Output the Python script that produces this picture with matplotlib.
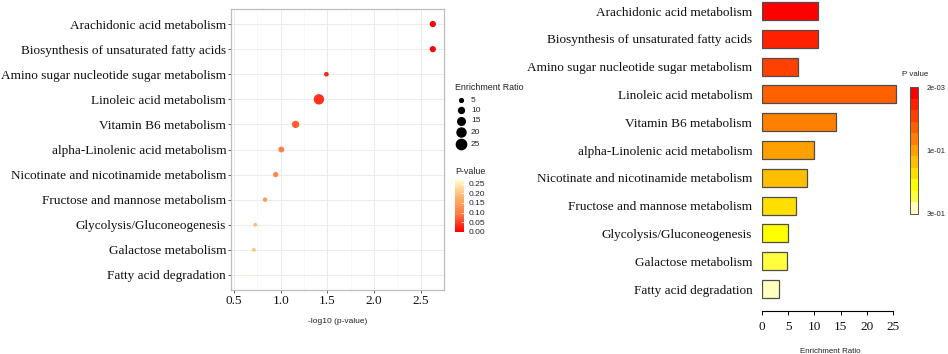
import numpy as np
import matplotlib
matplotlib.use("Agg")
import matplotlib.pyplot as plt
from matplotlib.colors import LinearSegmentedColormap, ListedColormap, hsv_to_rgb
from matplotlib.lines import Line2D
import matplotlib.colorbar as mcolorbar
from matplotlib.colors import Normalize

# pathways, top to bottom
pathways = [
    "Arachidonic acid metabolism",
    "Biosynthesis of unsaturated fatty acids",
    "Amino sugar nucleotide sugar metabolism",
    "Linoleic acid metabolism",
    "Vitamin B6 metabolism",
    "alpha-Linolenic acid metabolism",
    "Nicotinate and nicotinamide metabolism",
    "Fructose and mannose metabolism",
    "Glycolysis/Gluconeogenesis",
    "Galactose metabolism",
    "Fatty acid degradation",
]
neg_log10_p = [2.63, 2.63, 1.49, 1.41, 1.16, 1.007, 0.947, 0.833, 0.727, 0.713, 0.571]
enrichment = [10.6, 10.6, 6.9, 25.6, 14.2, 9.9, 8.5, 6.4, 4.9, 4.8, 3.3]
size_breaks = [5, 10, 15, 20, 25]
pval_breaks = [0.00, 0.05, 0.10, 0.15, 0.20, 0.25]
bar_cbar_labels = ["2e-03", "1e-01", "3e-01"]

pvals = 10 ** (-np.array(neg_log10_p))
enrich = np.array(enrichment)

SERIF = ["Liberation Serif", "DejaVu Serif"]
SANS = ["Liberation Sans", "DejaVu Sans"]

W, H = 948, 354
fig = plt.figure(figsize=(W / 100, H / 100), dpi=100)


def px_axes(x0, y0, x1, y1):
    # pixel box (top-left origin) -> figure axes
    return fig.add_axes([x0 / W, 1 - y1 / H, (x1 - x0) / W, (y1 - y0) / H])


def heat_colors(n):
    # same as R's heat.colors
    j = n // 4
    i = n - j
    cols = [hsv_to_rgb((h, 1, 1)) for h in np.linspace(0, 1 / 6, i)]
    if j > 0:
        for s in np.linspace(1 - 1 / (2 * j), 1 / (2 * j), j):
            cols.append(hsv_to_rgb((1 / 6, s, 1)))
    return cols


def dot_diam(v):
    lo, hi = np.sqrt(enrich.min()), np.sqrt(enrich.max())
    return 2.0 + (np.sqrt(v) - lo) / (hi - lo) * 5.5


n = len(pathways)
ypos = np.arange(n)

# ---------- left: bubble plot ----------
ax1 = px_axes(231, 9, 444, 290)
dot_cmap = LinearSegmentedColormap.from_list("dots", ["#FF0000", "#FF7A45", "#FFB26E", "#FFFFCC"])
pnorm = Normalize(pvals.min(), pvals.max())
ax1.scatter(neg_log10_p, ypos, s=dot_diam(enrich) ** 2, c=pvals, cmap=dot_cmap, norm=pnorm,
            edgecolors="none", zorder=3)
ax1.set_xlim(0.468, 2.734)
ax1.set_ylim(n - 1 + 0.6, -0.6)
ax1.set_xticks([0.5, 1.0, 1.5, 2.0, 2.5])
ax1.set_xticks([0.75, 1.25, 1.75, 2.25, 2.75], minor=True)
ax1.set_yticks(ypos)
ax1.set_yticklabels(pathways, family=SERIF, fontsize=9.5, color="#111111")
ax1.set_xticklabels(["0.5", "1.0", "1.5", "2.0", "2.5"], family=SERIF, fontsize=9.5, color="#111111")
ax1.grid(True, which="major", color="#EBEBEB", lw=0.7)
ax1.grid(True, which="minor", axis="x", color="#F2F2F2", lw=0.4)
ax1.set_axisbelow(True)
for sp in ax1.spines.values():
    sp.set_color("#BDBDBD")
    sp.set_linewidth(0.9)
ax1.tick_params(which="major", length=2, width=0.6, color="#444444", pad=1.5)
ax1.tick_params(which="minor", length=0)
ax1.set_xlabel("-log10 (p-value)", family=SANS, fontsize=6, color="#222222", labelpad=8)

# size legend
fig.text(455 / W, 1 - 87 / H, "Enrichment Ratio", family=SANS, fontsize=6.4, va="center", color="#222222")
leg_y = [100, 110, 121, 132, 144]
for b, yy in zip(size_breaks, leg_y):
    fig.add_artist(Line2D([461 / W], [1 - yy / H], marker="o", color="black", ls="none",
                          markersize=dot_diam(b), transform=fig.transFigure))
    fig.text(471 / W, 1 - yy / H, str(b), family=SANS, fontsize=6, va="center", color="#222222")

# colour legend
fig.text(455 / W, 1 - 172 / H, "P-value", family=SANS, fontsize=6.4, va="center", color="#222222")
cax1 = px_axes(455, 180, 464, 232)
cb1 = mcolorbar.ColorbarBase(cax1, cmap=dot_cmap, norm=pnorm, orientation="vertical")
cb1.outline.set_visible(False)
cb1.set_ticks(pval_breaks)
cb1.ax.tick_params(length=2, width=0.5, color="white", direction="in", pad=3, labelsize=6)
cb1.ax.set_yticklabels(["%.2f" % v for v in pval_breaks], family=SANS, color="#222222")

# ---------- right: bar plot ----------
ax2 = px_axes(762, 0, 898, 311)
bar_cols = heat_colors(n)
order = np.argsort(pvals, kind="stable")
colors = [None] * n
for rank, idx in enumerate(order):
    colors[idx] = bar_cols[rank]
ax2.barh(ypos, enrich, height=0.65, color=colors, edgecolor="#4D4D4D", linewidth=0.9, align="center")
ax2.set_xlim(0, 136 / 5.24)
ax2.set_ylim(10.79, -0.396)
for s in ["top", "right", "left"]:
    ax2.spines[s].set_visible(False)
ax2.spines["bottom"].set_bounds(0, 25)
ax2.spines["bottom"].set_linewidth(0.8)
ax2.set_xticks([0, 5, 10, 15, 20, 25])
ax2.set_xticklabels(["0", "5", "10", "15", "20", "25"], family=SERIF, fontsize=9.5, color="#111111")
ax2.tick_params(axis="x", length=3, width=0.7, pad=4)
ax2.set_yticks(ypos)
ax2.set_yticklabels(pathways, family=SERIF, fontsize=9.5, color="#111111")
ax2.tick_params(axis="y", length=0, pad=7)
ax2.set_xlabel("Enrichment Ratio", family=SANS, fontsize=5.7, color="#222222", labelpad=11)

fig.text(915 / W, 1 - 74 / H, "P value", family=SANS, fontsize=5.7, ha="center", va="center", color="#222222")
cax2 = px_axes(910, 87, 918, 214)
bar_cmap = ListedColormap(heat_colors(n)[::-1])
cb2 = mcolorbar.ColorbarBase(cax2, cmap=bar_cmap, norm=Normalize(0, 1), orientation="vertical")
cb2.outline.set_edgecolor("#555555")
cb2.outline.set_linewidth(0.7)
cb2.set_ticks([1, 0.5, 0])
cb2.ax.tick_params(length=0, pad=6, labelsize=5.3)
cb2.ax.set_yticklabels(bar_cbar_labels, family=SANS, color="#222222")

fig.savefig("out.png", dpi=100)
